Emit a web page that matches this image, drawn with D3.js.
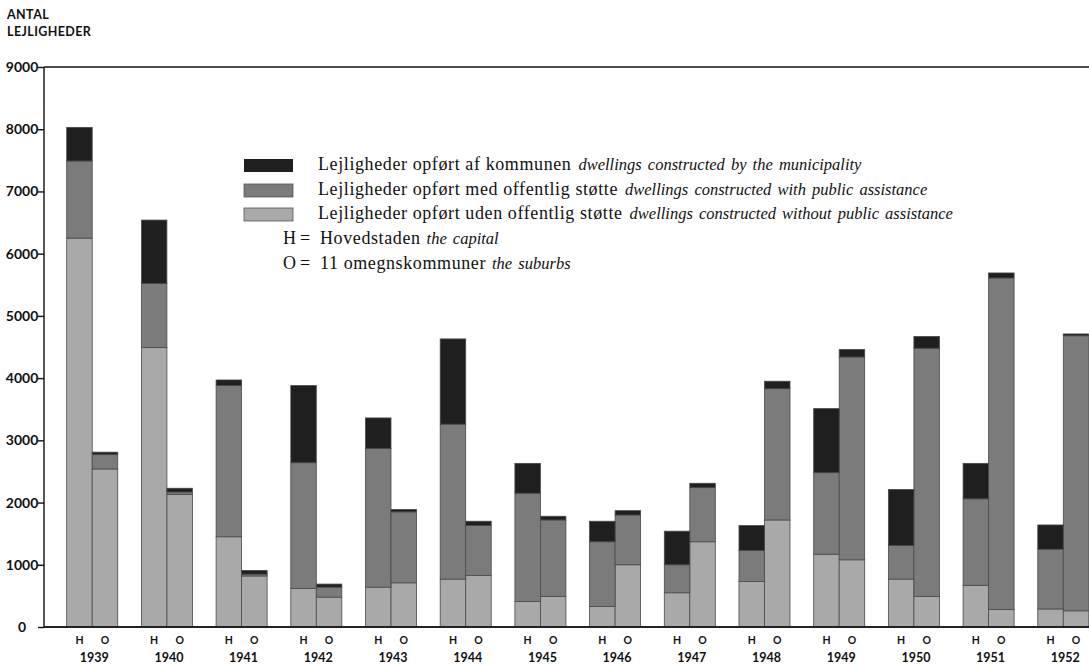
<!DOCTYPE html>
<html>
<head>
<meta charset="utf-8">
<script src="https://cdn.jsdelivr.net/npm/d3@7"></script>
<style>
  body { margin: 0; background: #fff; }
  svg { display: block; }
</style>
</head>
<body>
<div id="chart"></div>
<script>
// years and the two areas per year
const years = [1939, 1940, 1941, 1942, 1943, 1944, 1945, 1946, 1947, 1948, 1949, 1950, 1951, 1952];
const areas = ['H', 'O'];

// H = Hovedstaden: without public assistance / with public assistance / by the municipality
const hWithout = [6250, 4490, 1450, 620, 640, 770, 410, 330, 550, 730, 1170, 770, 670, 290];
const hWith    = [1240, 1030, 2430, 2020, 2230, 2490, 1740, 1040, 450, 500, 1310, 540, 1390, 960];
const hMunic   = [540, 1020, 90, 1240, 490, 1370, 480, 330, 540, 400, 1030, 900, 570, 390];

// O = 11 omegnskommuner
const oWithout = [2540, 2130, 820, 480, 710, 830, 490, 1000, 1370, 1720, 1080, 490, 280, 260];
const oWith    = [230, 40, 30, 160, 1140, 800, 1230, 800, 870, 2110, 3260, 3990, 5330, 4420];
const oMunic   = [40, 60, 60, 50, 40, 70, 60, 70, 70, 120, 120, 190, 80, 30];

const yTicks = [0, 1000, 2000, 3000, 4000, 5000, 6000, 7000, 8000, 9000];

const keys = ['without', 'with', 'munic'];
const colors = { munic: '#1f1f1f', with: '#7b7b7b', without: '#a9a9a9' };

const legendItems = [
    { key: 'munic', da: 'Lejligheder opført af kommunen', en: 'dwellings constructed by the municipality' },
    { key: 'with', da: 'Lejligheder opført med offentlig støtte', en: 'dwellings constructed with public assistance' },
    { key: 'without', da: 'Lejligheder opført uden offentlig støtte', en: 'dwellings constructed without public assistance' }
];

const width = 1089, height = 666;
const axisX = 44;
const plotTop = 67, plotBottom = 627;

// flat table for d3.stack
const rows = [];
years.forEach((yr, i) => {
    rows.push({ year: yr, area: 'H', without: hWithout[i], with: hWith[i], munic: hMunic[i] });
    rows.push({ year: yr, area: 'O', without: oWithout[i], with: oWith[i], munic: oMunic[i] });
});

const svg = d3.select('#chart')
    .append('svg')
    .attr('width', width)
    .attr('height', height);

const xScale = d3.scaleBand()
    .domain(years)
    .range([66.7, 1088.8])
    .paddingInner(0.317)
    .paddingOuter(0);

const xInner = d3.scaleBand()
    .domain(areas)
    .range([0, xScale.bandwidth()]);

const yScale = d3.scaleLinear()
    .domain([0, 9000])
    .range([plotBottom, plotTop]);

// y axis
const yAxis = d3.axisLeft(yScale)
    .tickValues(yTicks)
    .tickFormat(d3.format('d'))
    .tickSize(6);

const yG = svg.append('g')
    .attr('transform', `translate(${axisX},0)`)
    .call(yAxis);
yG.select('.domain').remove();
yG.selectAll('.tick line').attr('stroke', '#111').attr('stroke-width', 1.4);
yG.selectAll('.tick text')
    .attr('x', 22 - axisX)
    .attr('text-anchor', 'middle')
    .attr('fill', '#111')
    .style('font-family', 'Lato, sans-serif')
    .style('font-weight', '700')
    .style('font-size', '14px');

// frame lines
svg.append('line')
    .attr('x1', axisX).attr('x2', axisX)
    .attr('y1', plotTop).attr('y2', plotBottom)
    .attr('stroke', '#111').attr('stroke-width', 1.4);
svg.append('line')
    .attr('x1', axisX).attr('x2', width)
    .attr('y1', plotTop).attr('y2', plotTop)
    .attr('stroke', '#111').attr('stroke-width', 1.6);

// stacked bars
const series = d3.stack().keys(keys)(rows);

svg.append('g')
    .selectAll('g')
    .data(series)
    .enter()
    .append('g')
    .attr('fill', d => colors[d.key])
    .selectAll('rect')
    .data(d => d)
    .enter()
    .append('rect')
    .attr('x', d => xScale(d.data.year) + xInner(d.data.area))
    .attr('y', d => yScale(d[1]))
    .attr('height', d => yScale(d[0]) - yScale(d[1]))
    .attr('width', xInner.bandwidth())
    .attr('stroke', '#4a4a4a')
    .attr('stroke-width', 0.8);

// baseline
svg.append('line')
    .attr('x1', axisX).attr('x2', width)
    .attr('y1', plotBottom).attr('y2', plotBottom)
    .attr('stroke', '#222').attr('stroke-width', 2);

// H / O labels and years
const labelG = svg.append('g')
    .style('font-family', 'Lato, sans-serif')
    .style('font-weight', '700')
    .attr('fill', '#111')
    .attr('text-anchor', 'middle');

rows.forEach(d => {
    labelG.append('text')
        .attr('x', xScale(d.year) + xInner(d.area) + xInner.bandwidth() / 2)
        .attr('y', 644)
        .style('font-size', '10.5px')
        .text(d.area);
});

labelG.selectAll('.year')
    .data(years)
    .enter()
    .append('text')
    .attr('class', 'year')
    .attr('x', d => xScale(d) + xScale.bandwidth() / 2 + 2)
    .attr('y', 662)
    .style('font-size', '12.5px')
    .text(d => d);

// y title
const title = svg.append('text')
    .style('font-family', 'Lato, sans-serif')
    .style('font-weight', '700')
    .style('font-size', '12.5px')
    .style('letter-spacing', '0.4px')
    .attr('fill', '#111');
title.append('tspan').attr('x', 7).attr('y', 19).text('ANTAL');
title.append('tspan').attr('x', 7).attr('y', 36).text('LEJLIGHEDER');

// legend
const serif = '"Liberation Serif", "Times New Roman", serif';
const legend = svg.append('g')
    .style('font-family', serif)
    .attr('fill', '#111');

const legendBase = [170, 195, 219];

legendItems.forEach((item, i) => {
    const baseY = legendBase[i];
    legend.append('rect')
        .attr('x', 244)
        .attr('y', baseY - 11)
        .attr('width', 49)
        .attr('height', 13)
        .attr('fill', colors[item.key])
        .attr('stroke', item.key === 'munic' ? 'none' : '#555')
        .attr('stroke-width', 0.8);
    const t = legend.append('text')
        .attr('x', 318)
        .attr('y', baseY)
        .style('font-size', '18px')
        .style('letter-spacing', '0.6px');
    t.append('tspan').text(item.da);
    t.append('tspan')
        .attr('dx', 7)
        .style('font-style', 'italic')
        .style('font-size', '16.5px')
        .style('letter-spacing', '0px')
        .style('word-spacing', '2px')
        .text(item.en);
});

// H / O key lines
const keyRows = [
    { y: 244, letter: 'H', da: 'Hovedstaden', en: 'the capital' },
    { y: 269, letter: 'O', da: '11 omegnskommuner', en: 'the suburbs' }
];

keyRows.forEach(r => {
    legend.append('text')
        .attr('x', 283).attr('y', r.y)
        .style('font-size', '18px')
        .text(r.letter);
    legend.append('text')
        .attr('x', 300).attr('y', r.y)
        .style('font-size', '18px')
        .text('=');
    const t = legend.append('text')
        .attr('x', 320).attr('y', r.y)
        .style('font-size', '18px')
        .style('letter-spacing', '0.6px');
    t.append('tspan').text(r.da);
    t.append('tspan')
        .attr('dx', 6)
        .style('font-style', 'italic')
        .style('font-size', '16.5px')
        .style('letter-spacing', '0px')
        .style('word-spacing', '2px')
        .text(r.en);
});
</script>
</body>
</html>
